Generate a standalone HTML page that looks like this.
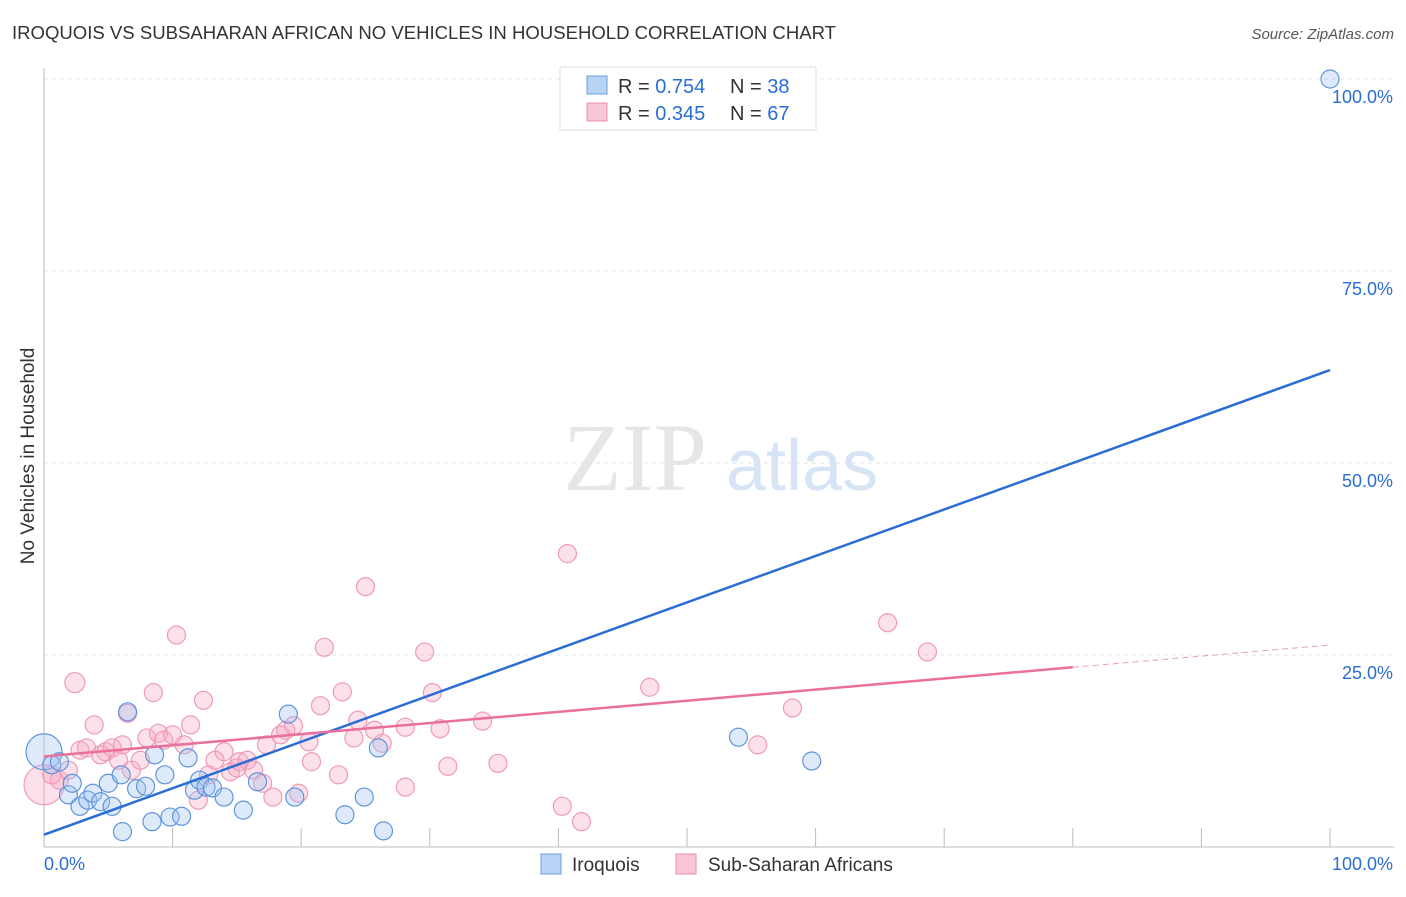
<!DOCTYPE html>
<html><head><meta charset="utf-8"><style>
body{margin:0;background:#fff;font-family:"Liberation Sans",sans-serif;}
</style></head><body>
<svg width="1406" height="892" xmlns="http://www.w3.org/2000/svg" id="chart">
<text x="12" y="39" font-size="18" fill="#333" textLength="824" lengthAdjust="spacingAndGlyphs">IROQUOIS VS SUBSAHARAN AFRICAN NO VEHICLES IN HOUSEHOLD CORRELATION CHART</text>
<text x="1394" y="39" font-size="15" fill="#555" font-style="italic" text-anchor="end">Source: ZipAtlas.com</text>
<text x="34" y="456" font-size="19" fill="#333" text-anchor="middle" transform="rotate(-90 34 456)">No Vehicles in Household</text>
<g><text x="635" y="490" font-size="96" font-family="Liberation Serif,serif" fill="#e6e6e6" text-anchor="middle">ZIP</text><text x="802" y="490" font-size="72" fill="#d6e4f5" text-anchor="middle">atlas</text></g>
<g id="grid"></g><g id="axes"></g><g id="marks"></g><g id="lines"></g>
<g>
<rect x="560" y="67" width="256" height="63" fill="#fff" stroke="#ddd"/>
<rect x="587" y="76" width="20" height="18" fill="#b8d3f5" stroke="#6a9fe0"/>
<rect x="587" y="103" width="20" height="18" fill="#f9c6d6" stroke="#ec8fae"/>
<text x="618" y="93" font-size="20" fill="#333">R = <tspan fill="#2a6dd6">0.754</tspan></text>
<text x="730" y="93" font-size="20" fill="#333">N = <tspan fill="#2a6dd6">38</tspan></text>
<text x="618" y="120" font-size="20" fill="#333">R = <tspan fill="#2a6dd6">0.345</tspan></text>
<text x="730" y="120" font-size="20" fill="#333">N = <tspan fill="#2a6dd6">67</tspan></text>
</g>
<g>
<rect x="541" y="854" width="20" height="20" fill="#b8d3f5" stroke="#6a9fe0"/>
<text x="572" y="871" font-size="19" fill="#333">Iroquois</text>
<rect x="676" y="854" width="20" height="20" fill="#f9c6d6" stroke="#ec8fae"/>
<text x="708" y="871" font-size="19" fill="#333">Sub-Saharan Africans</text>
</g>
</svg>
<script>
const blueX=[0,0.6,1.2,1.9,2.2,2.8,3.4,3.8,4.4,5.0,5.3,6.0,6.1,6.5,7.2,7.9,8.4,8.6,9.4,9.8,10.7,11.2,11.7,12.1,12.6,13.1,14.0,15.5,16.6,19.0,19.5,23.4,24.9,26.0,26.4,54.0,59.7,100];
const blueY=[12.4,10.7,11.1,6.8,8.3,5.3,6.1,7.0,5.9,8.3,5.3,9.4,2.0,17.6,7.6,7.9,3.3,12.0,9.4,3.9,4.0,11.6,7.4,8.7,7.8,7.7,6.5,4.8,8.5,17.3,6.5,4.2,6.5,12.9,2.1,14.3,11.2,100];
const pinkX=[0,0.6,1.2,1.9,2.4,2.8,3.3,3.9,4.4,4.8,5.3,5.8,6.1,6.5,6.8,7.5,8.0,8.5,8.9,9.3,10.0,10.3,10.9,11.4,12.0,12.4,12.8,13.3,14.0,14.5,15.0,15.2,15.8,16.3,17.0,17.3,17.8,18.4,18.8,19.4,19.8,20.6,20.8,21.5,21.8,22.9,23.2,24.1,24.4,25.0,25.7,26.3,28.1,28.1,29.6,30.2,30.8,31.4,34.1,35.3,40.3,40.7,41.8,47.1,55.5,58.2,65.6,68.7];
const pinkY=[8.1,9.4,8.7,10.0,21.4,12.6,12.9,15.9,12.0,12.4,12.9,11.3,13.3,17.4,10.0,11.3,14.2,20.1,14.8,13.9,14.6,27.6,13.3,15.9,6.1,19.1,9.4,11.3,12.4,9.8,10.3,11.1,11.3,10.0,8.3,13.3,6.5,14.6,15.2,15.8,7.0,13.7,11.1,18.4,26.0,9.4,20.2,14.2,16.5,33.9,15.2,13.5,7.8,15.6,25.4,20.1,15.4,10.5,16.4,10.9,5.3,38.2,3.3,20.8,13.3,18.1,29.2,25.4];
const blueTrend=[1.6,62.1];
const pinkTrend=[11.8,26.3];
const yTicks=[25,50,75,100];
const yTickLabels=["25.0%","50.0%","75.0%","100.0%"];
const xTicks=[0,10,20,30,40,50,60,70,80,90,100];
const NS="http://www.w3.org/2000/svg";
const X=v=>44+v*12.86, Y=v=>847-v*7.68;
function mk(t,a,p){const e=document.createElementNS(NS,t);for(const k in a)e.setAttribute(k,a[k]);document.getElementById(p).appendChild(e);return e;}
yTicks.forEach((t,i)=>{
 const g=mk('line',{x1:44,x2:1394,y1:Y(t),y2:Y(t),stroke:'#e2e2e2','stroke-dasharray':'4,4'},'grid');
 
 
 const l=mk('text',{x:1393,y:Y(t)+24,'font-size':18,fill:'#2a6dd6','text-anchor':'end'},'axes');
 l.textContent=yTickLabels[i];
 
 
});
const ax=mk('line',{x1:44,x2:44,y1:68,y2:847,stroke:'#bbb'},'axes');


const bx=mk('line',{x1:44,x2:1394,y1:847,y2:847,stroke:'#bbb'},'axes');


xTicks.forEach(t=>{const e=mk('line',{x1:X(t),x2:X(t),y1:828,y2:847,stroke:'#bbb'},'axes');
 
 });
const l0=mk('text',{x:44,y:870,'font-size':18,fill:'#2a6dd6'},'axes');l0.textContent='0.0%';


const l1=mk('text',{x:1393,y:870,'font-size':18,fill:'#2a6dd6','text-anchor':'end'},'axes');l1.textContent='100.0%';


pinkX.forEach((v,i)=>{const c=mk('circle',{cx:X(v),cy:Y(pinkY[i]),r:i==0?20:(i==4?10:9),fill:'rgba(246,170,195,0.35)',stroke:'#ef9ab7','stroke-width':1.2},'marks');
 
 });
blueX.forEach((v,i)=>{const c=mk('circle',{cx:X(v),cy:Y(blueY[i]),r:i==0?18:9,fill:'rgba(160,196,240,0.35)',stroke:'#5e95dc','stroke-width':1.2},'marks');
 
 });
const bt=mk('line',{x1:X(0),y1:Y(blueTrend[0]),x2:X(100),y2:Y(blueTrend[1]),stroke:'#2a6dd6','stroke-width':2.5},'lines');


const p80=pinkTrend[0]+(pinkTrend[1]-pinkTrend[0])*0.8;
const pt=mk('line',{x1:X(0),y1:Y(pinkTrend[0]),x2:X(80),y2:Y(p80),stroke:'#e8709a','stroke-width':2.5},'lines');


const pd=mk('line',{x1:X(80),y1:Y(p80),x2:X(100),y2:Y(pinkTrend[1]),stroke:'#e8a0b8','stroke-width':1,'stroke-dasharray':'6,4'},'lines');


</script>
</body></html>
